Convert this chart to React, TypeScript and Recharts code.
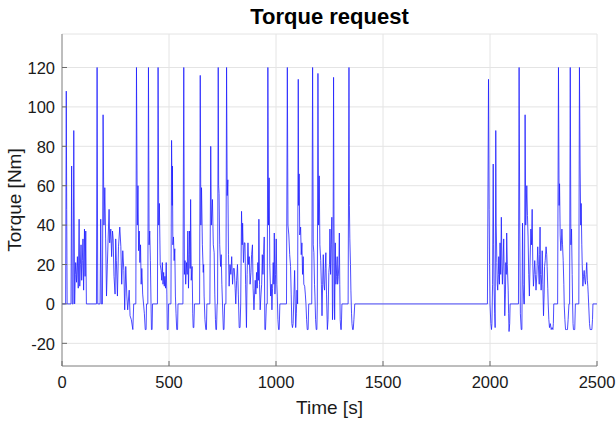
import React from 'react';
import { LineChart, Line, XAxis, YAxis, CartesianGrid } from 'recharts';

// Time [s], Torque [Nm] vertices, per drive segment
const seg1: [number, number][] = [
  [0, 0], [17, 0], [20, 108], [22, 48], [24, 0], [42, 0], [45, 70], [48, 0], [52, 0], [55, 88], [59, 0],
  [62, 15], [64, 21], [68, 11], [72, 24], [76, 8], [80, 43], [83, 9], [86, 20], [89, 30], [92, 12], [95, 22],
  [98, 33], [101, 7], [105, 38], [108, 14], [111, 37], [114, 0], [161, 0], [164, 120], [167, 0], [178, 0],
  [181, 43], [184, 0], [189, 0], [192, 96], [196, 40], [200, 59], [204, 33], [208, 4], [212, 20], [215, 31],
  [220, 48], [223, 31], [228, 38], [232, 24], [236, 37], [239, 33], [243, 14], [248, 5], [251, 33], [254, 22],
  [259, 4], [264, 29], [270, 39], [275, 29], [279, 10], [284, 27], [289, 17], [293, -3], [298, 19], [303, 4],
  [307, -3], [314, 7], [318, -6], [324, -8], [331, -13], [335, 0], [345, 0],
];

const seg2: [number, number][] = [
  [348, 120], [352, 40], [355, 60], [358, 27], [361, 37], [364, 21], [367, 30], [370, 10], [373, 18],
  [377, 5], [381, 0], [385, -5], [389, -13], [393, -13], [395, 0], [401, 0], [404, 120], [407, 30],
  [410, 37], [413, 22], [416, 0], [418, -13], [421, -13], [423, 0], [446, 0], [449, 120], [452, 40],
  [455, 51], [459, 20], [463, 17], [466, 12], [469, 21], [472, 10], [475, 16], [478, 9], [481, 14],
  [484, 8], [487, 21], [490, 5], [492, -13], [496, -13], [498, 0], [509, 0], [512, 83], [515, 50],
  [516, 70], [518, 30], [521, 34], [524, 22], [527, 28], [530, 4], [533, -5], [536, -13], [540, -13],
  [542, 0], [565, 0], [569, 120], [572, 15], [575, 22], [578, 10], [582, 21], [585, 15], [588, 37],
  [591, 8], [594, 25], [596, 37], [599, 18], [601, 53], [604, 12], [608, 19], [611, -5], [613, -12],
  [616, -12], [619, 0], [643, 0],
];

const seg3: [number, number][] = [
  [646, 116], [649, 40], [652, 59], [656, 30], [660, 16], [662, 20], [664, 4], [668, -8], [672, -13],
  [675, -13], [677, 0], [691, 0], [695, 80], [698, 40], [703, 53], [707, 30], [711, 26], [714, 5],
  [717, -8], [719, -13], [722, -13], [725, 0], [727, 0], [730, 120], [732, 60], [734, 56], [737, 30],
  [741, 19], [744, 25], [747, 10], [750, 0], [754, -13], [757, -13], [760, 0], [766, 0], [769, 120],
  [772, 55], [775, 63], [778, 25], [781, 9], [785, 20], [789, 15], [793, 24], [797, 10], [801, 18],
  [805, 18], [809, 8], [812, 0], [816, 12], [820, 20], [824, 5], [828, -12], [832, -12], [835, 0],
  [839, 47], [842, 30], [844, 41], [848, 21], [852, 31], [855, 31], [858, 10], [862, -12], [865, 15],
  [869, 31], [872, 20], [875, 24], [879, 10], [883, 16], [886, 25], [890, 30], [893, 8], [897, -3],
  [900, 5], [903, 12], [906, 5], [909, 16], [912, 8], [915, 21], [918, 12], [920, 43], [923, 10],
  [926, -3], [930, 5], [933, 10], [936, 25], [939, 15], [942, 25], [945, 34], [948, -13], [951, -13],
  [955, 0], [959, 0],
];

const seg4: [number, number][] = [
  [962, 120], [965, 40], [968, 64], [971, 20], [975, 4], [978, 10], [981, -3], [984, 8], [987, 21],
  [990, 10], [992, 36], [995, 5], [998, 15], [1001, 33], [1004, 10], [1006, 4], [1009, -8], [1012, -13],
  [1015, -13], [1018, 0], [1049, 0], [1053, 120], [1056, 40], [1060, 35], [1064, 25], [1068, 19],
  [1071, 5], [1074, -10], [1077, -12], [1080, -10], [1084, 5], [1087, 17], [1090, 0], [1092, -12],
  [1095, -5], [1098, 7], [1101, 0], [1104, 114], [1106, 50], [1108, 66], [1111, 35], [1115, 39],
  [1118, 25], [1121, 31], [1124, 15], [1127, 24], [1130, 10], [1134, 9], [1137, 5], [1140, 0],
  [1143, -8], [1146, -13], [1150, -13], [1153, 0], [1167, 0], [1171, 120], [1174, 30], [1177, 26],
  [1180, 10], [1182, 4], [1185, -8], [1188, -13], [1191, -13], [1193, 0], [1196, 117], [1199, 40],
  [1202, 65], [1205, 30], [1209, 22], [1212, 10], [1215, -6], [1218, 10], [1221, 25], [1224, 10],
  [1227, 7], [1230, 18], [1233, 26], [1236, 5], [1240, -13], [1243, -8], [1247, 16], [1250, 20],
  [1252, 38], [1255, 15], [1258, 30], [1261, 44], [1264, -8], [1266, 0], [1269, 115], [1271, 40],
  [1274, -8], [1277, 31], [1280, 10], [1282, 14], [1284, 20], [1286, 24], [1288, 10], [1291, 14],
  [1294, 20], [1296, 36], [1298, 10], [1300, -8], [1303, -13], [1305, -13], [1308, 0], [1337, 0],
  [1341, 120], [1343, 50], [1345, 33], [1348, 20], [1350, 7], [1353, -5], [1355, -10], [1358, -13],
  [1361, -13], [1364, -8], [1368, 0], [1988, 0],
];

const seg5: [number, number][] = [
  [1993, 114], [1996, 48], [1998, 20], [2000, 0], [2004, -10], [2007, -13], [2009, -10], [2012, 10],
  [2015, 71], [2017, 30], [2019, 9], [2022, -5], [2024, -12], [2027, 88], [2029, 40], [2032, 21],
  [2034, 10], [2036, 7], [2039, 15], [2041, 24], [2044, 10], [2047, 31], [2050, 15], [2053, 44],
  [2056, 20], [2058, 10], [2061, 20], [2064, 33], [2067, 10], [2069, -6], [2072, 5], [2074, 21],
  [2076, 15], [2078, 36], [2081, 20], [2085, 7], [2087, -5], [2089, -14], [2092, -10], [2094, 0],
  [2133, 0], [2136, 120], [2139, 40], [2142, -5], [2146, -13], [2149, -13], [2152, 41], [2155, 10],
  [2158, 0], [2161, 0], [2164, 96], [2167, 40], [2172, 60], [2175, 45], [2178, 34], [2181, 15],
  [2184, 4], [2187, 20], [2191, 38], [2194, 30], [2197, 48], [2200, 20], [2203, 9], [2206, 15],
  [2209, 22], [2212, 15], [2215, 7], [2219, 15], [2223, 29], [2226, 20], [2230, 10], [2232, 25],
  [2234, 39], [2236, 15], [2239, 7], [2242, 15], [2244, 27], [2247, 10], [2250, -6], [2253, 5],
  [2255, 19], [2258, 22], [2262, 29], [2265, 25], [2267, 19], [2270, 8], [2272, 0], [2275, -8],
  [2278, -12], [2282, -10], [2286, -13], [2290, -12], [2294, -13], [2296, -10], [2298, 0], [2316, 0],
];

const seg6: [number, number][] = [
  [2320, 120], [2323, 50], [2325, 61], [2328, 35], [2331, 27], [2334, 32], [2336, 38], [2339, 30],
  [2342, 22], [2345, 10], [2347, -1], [2350, -8], [2353, -13], [2358, -13], [2362, -13], [2365, -8],
  [2369, 0], [2372, 0], [2375, 120], [2378, 30], [2381, 38], [2384, 15], [2386, 0], [2388, -10],
  [2390, -13], [2396, -13], [2399, 0], [2415, 0], [2418, 120], [2421, 70], [2424, 40], [2426, 51],
  [2429, 30], [2431, 20], [2434, 9], [2437, 14], [2440, 17], [2443, 12], [2446, 10], [2449, 15],
  [2452, 21], [2455, 12], [2457, 9], [2459, 5], [2461, 0], [2465, -10], [2468, -13], [2472, -13],
  [2476, -13], [2479, -8], [2481, 0], [2500, 0],
];

const xTicks = [0, 500, 1000, 1500, 2000, 2500];
const yTicks = [-20, 0, 20, 40, 60, 80, 100, 120];
const titleText = 'Torque request';
const xLabel = 'Time [s]';
const yLabel = 'Torque [Nm]';

const data = [...seg1, ...seg2, ...seg3, ...seg4, ...seg5, ...seg6].map(([t, v]) => ({ t, v }));

const FONT = '"Liberation Sans", Arial, Helvetica, sans-serif';
const AXIS = '#8a8a8a';
const TICKC = '#6a6a6a';
const TXT = '#1a1a1a';

const BottomTick = (props: any) => {
  const { x, y, payload } = props;
  const ay = y - 10;
  return (
    <g>
      <line x1={x} x2={x} y1={ay} y2={ay - 5} stroke={TICKC} strokeWidth={1} />
      <text x={x} y={y} dy="0.75em" textAnchor="middle" fontSize={16.5} fontFamily={FONT} fill={TXT}>
        {payload.value}
      </text>
    </g>
  );
};

const TopTick = (props: any) => {
  const { x, y } = props;
  return <line x1={x} x2={x} y1={y} y2={y + 5} stroke={TICKC} strokeWidth={1} />;
};

const LeftTick = (props: any) => {
  const { x, y, payload } = props;
  const ax = x + 7;
  return (
    <g>
      <line x1={ax} x2={ax + 5} y1={y} y2={y} stroke={TICKC} strokeWidth={1} />
      <text x={x} y={y} dy="0.38em" textAnchor="end" fontSize={16.5} fontFamily={FONT} fill={TXT}>
        {payload.value}
      </text>
    </g>
  );
};

const RightTick = (props: any) => {
  const { x, y } = props;
  return <line x1={x - 5} x2={x} y1={y} y2={y} stroke={TICKC} strokeWidth={1} />;
};

export default function App() {
  return (
    <div style={{ position: 'absolute', left: 0, top: 0, width: 616, height: 421, background: '#fff', fontFamily: FONT }}>
      <LineChart width={616} height={421} data={data} margin={{ top: 34, right: 19, left: 0, bottom: 0 }}>
        <CartesianGrid stroke="#e4e4e4" strokeWidth={1} />
        <XAxis
          dataKey="t"
          type="number"
          domain={[0, 2500]}
          ticks={xTicks}
          allowDataOverflow
          height={55}
          tickSize={0}
          tickMargin={10}
          tickLine={false}
          axisLine={{ stroke: AXIS, strokeWidth: 1 }}
          tick={<BottomTick />}
          interval={0}
        />
        <XAxis
          xAxisId="top"
          orientation="top"
          dataKey="t"
          type="number"
          domain={[0, 2500]}
          ticks={xTicks}
          allowDataOverflow
          height={0}
          tickSize={0}
          tickMargin={0}
          tickLine={false}
          axisLine={{ stroke: AXIS, strokeWidth: 1 }}
          tick={<TopTick />}
          interval={0}
        />
        <YAxis
          type="number"
          domain={[-31.5, 137]}
          ticks={yTicks}
          allowDataOverflow
          width={62}
          tickSize={0}
          tickMargin={7}
          tickLine={false}
          axisLine={{ stroke: AXIS, strokeWidth: 1 }}
          tick={<LeftTick />}
          interval={0}
        />
        <YAxis
          yAxisId="right"
          orientation="right"
          type="number"
          domain={[-31.5, 137]}
          ticks={yTicks}
          allowDataOverflow
          width={0}
          tickSize={0}
          tickMargin={0}
          tickLine={false}
          axisLine={{ stroke: AXIS, strokeWidth: 1 }}
          tick={<RightTick />}
          interval={0}
        />
        <Line
          type="linear"
          dataKey="v"
          stroke="#1f1fff"
          strokeWidth={0.8}
          dot={false}
          activeDot={false}
          isAnimationActive={false}
        />
      </LineChart>
      <div
        style={{
          position: 'absolute', left: 62, width: 535, top: 4, textAlign: 'center',
          fontSize: 22, fontWeight: 'bold', lineHeight: '26px', color: '#000',
        }}
      >
        {titleText}
      </div>
      <div
        style={{
          position: 'absolute', left: 62, width: 535, top: 396, textAlign: 'center',
          fontSize: 19, lineHeight: '24px', color: TXT,
        }}
      >
        {xLabel}
      </div>
      <div
        style={{
          position: 'absolute', left: 15, top: 200, width: 0, height: 0,
        }}
      >
        <div
          style={{
            position: 'absolute', left: -100, top: -12, width: 200, textAlign: 'center',
            fontSize: 19, lineHeight: '24px', color: TXT, transform: 'rotate(-90deg)',
            whiteSpace: 'nowrap',
          }}
        >
          {yLabel}
        </div>
      </div>
    </div>
  );
}
